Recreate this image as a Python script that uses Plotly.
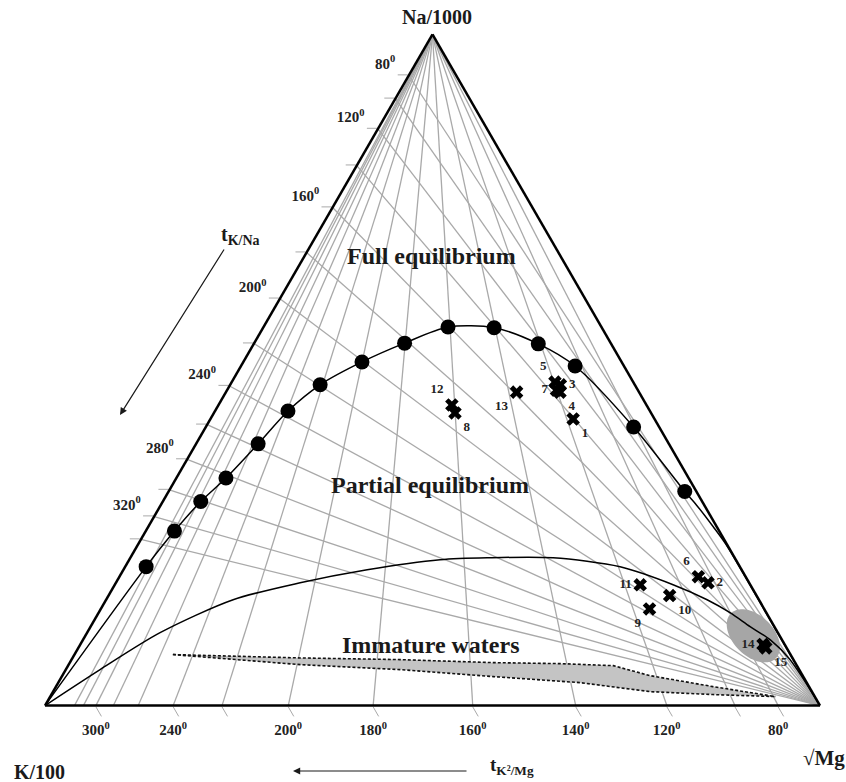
import math
import plotly.graph_objects as go

# ---------------- data (ternary percentages: Na/1000, K/100, sqrt(Mg)) ----------------
# K/Na isotherms: temperature and Na/1000 share where they meet the Na-K edge
KNA_TEMPS = [80, 100, 120, 140, 160, 180, 200, 220, 240, 260, 280, 300, 320, 340]
KNA_NA_PCT = [93.88, 90.42, 85.92, 80.46, 74.21, 67.50, 60.63, 53.94, 47.62, 41.85, 36.68, 32.13, 28.17, 24.75]
KNA_LABELLED = [80, 120, 160, 200, 240, 280, 320]

# K2/Mg isotherms: temperature and K/100 share where they meet the K-Mg edge
KMG_TEMPS = [80, 100, 120, 140, 160, 180, 200, 220, 240, 260, 280, 300, 320, 340]
KMG_K_PCT = [5.40, 10.98, 19.76, 31.52, 44.81, 57.66, 68.61, 77.16, 83.46, 87.97, 91.17, 93.43, 95.04, 96.20]
KMG_TICKED = [80, 100, 120, 140, 160, 180, 200, 220, 240, 300]
KMG_LABELLED = [80, 120, 140, 160, 180, 200, 240, 300]

# Full equilibrium dots
FEQ_NA = [31.9, 41.5, 50.6, 53.9, 56.3, 56.4, 54.0, 51.2, 47.8, 43.9, 39.0, 33.9, 30.4, 26.0, 20.7]
FEQ_K = [1.5, 3.3, 6.3, 9.4, 13.9, 19.8, 26.6, 33.5, 40.6, 46.7, 53.0, 59.7, 64.7, 70.3, 76.6]
FEQ_MG = [66.6, 55.2, 43.1, 36.7, 29.8, 23.8, 19.4, 15.3, 11.6, 9.4, 8.0, 6.4, 4.9, 3.7, 2.7]
# continuation of the full equilibrium curve towards the sqrt(Mg) corner
FEQ_TAIL_NA = [29.9, 26.6, 23.7, 12.0, 0.0]
FEQ_TAIL_K = [1.0, 0.45, 0.1, 0.05, 0.0]

# Partial / immature boundary
IMM_NA = [0, 5.36, 10.86, 15.77, 18.3, 20.24, 21.73, 22.02, 22.02, 20.68, 18.01, 15.77, 13.84, 11.76, 9.82, 6.85, 0]
IMM_K = [100, 90.21, 79.72, 67.84, 57.93, 48.31, 38.15, 31.94, 23.43, 15.45, 9.95, 6.68, 4.69, 3.14, 1.53, 0.44, 0]

# Shaded band (upper and lower dashed borders)
BAND_UP_NA = [7.6, 7.1, 6.85, 6.4, 6.25, 5.95, 4.46, 2.83, 1.34]
BAND_UP_K = [79.7, 63.5, 50.8, 39.0, 30.4, 23.7, 19.7, 12.4, 5.1]
BAND_LO_NA = [7.6, 6.1, 5.36, 4.32, 3.42, 2.08, 1.64, 1.34]
BAND_LO_K = [79.7, 64.0, 51.5, 40.0, 29.25, 20.9, 13.0, 5.1]

# Samples
SAMPLE_ID = ["1", "2", "3", "4", "5", "6", "7", "8", "9", "10", "11", "12", "13", "14", "15"]
SAMPLE_NA = [42.7, 18.3, 47.8, 46.7, 48.2, 19.2, 47.0, 43.6, 14.4, 16.4, 18.0, 44.8, 46.7, 9.1, 8.6]
SAMPLE_K = [10.5, 5.3, 9.6, 10.2, 10.1, 6.1, 10.5, 25.3, 14.8, 11.2, 14.2, 25.1, 15.8, 2.8, 2.7]
SAMPLE_MG = [46.8, 76.4, 42.6, 43.1, 41.7, 74.7, 42.5, 31.1, 70.8, 72.4, 67.8, 30.1, 37.5, 88.1, 88.7]

# Gray ellipse around samples 14/15 (centre)
ELL_NA, ELL_K, ELL_MG = 10.4, 3.4, 86.2

# ---------------- styles ----------------
SERIF = "Liberation Serif"
GRID = "#a9a9a9"
INK = "#1a1a1a"
fig = go.Figure()


def rest(na, k):
    return [100 - x - y for x, y in zip(na, k)]


# isotherm grid
ga, gb, gc = [], [], []
for na in KNA_NA_PCT:          # from the sqrt(Mg) corner to the Na-K edge
    ga += [0, na, None]
    gb += [0, 100 - na, None]
    gc += [100, 0, None]
for kp in KMG_K_PCT:           # from the Na corner to the K-Mg edge
    ga += [100, 0, None]
    gb += [0, kp, None]
    gc += [0, 100 - kp, None]
fig.add_trace(go.Scatterternary(a=ga, b=gb, c=gc, mode="lines",
                                line=dict(color=GRID, width=1.3), hoverinfo="skip"))

# shaded band
bpa = BAND_UP_NA + BAND_LO_NA[::-1]
bpb = BAND_UP_K + BAND_LO_K[::-1]
fig.add_trace(go.Scatterternary(a=bpa, b=bpb, c=rest(bpa, bpb), mode="lines", fill="toself",
                                fillcolor="#c4c4c4", line=dict(width=0), hoverinfo="skip"))
for na, k in ((BAND_UP_NA, BAND_UP_K), (BAND_LO_NA, BAND_LO_K)):
    fig.add_trace(go.Scatterternary(a=na, b=k, c=rest(na, k), mode="lines",
                                    line=dict(color="#111", width=1.6, dash="3px,2px"), hoverinfo="skip"))

# ellipse
ea, eb, ec = [], [], []
rx, ry, rot = 0.041, 0.026, math.radians(-45)
for i in range(0, 73):
    th = math.radians(i * 5)
    dx = rx * math.cos(th) * math.cos(rot) - ry * math.sin(th) * math.sin(rot)
    dy = rx * math.cos(th) * math.sin(rot) + ry * math.sin(th) * math.cos(rot)
    da = dy / (math.sqrt(3) / 2)
    dc = dx - da / 2
    ea.append(ELL_NA + 100 * da); ec.append(ELL_MG + 100 * dc); eb.append(ELL_K - 100 * (da + dc))
fig.add_trace(go.Scatterternary(a=ea, b=eb, c=ec, mode="lines", fill="toself", fillcolor="#a6a6a6",
                                line=dict(width=0), hoverinfo="skip"))

# immature boundary
fig.add_trace(go.Scatterternary(a=IMM_NA, b=IMM_K, c=rest(IMM_NA, IMM_K), mode="lines",
                                line=dict(color="black", width=1.5, shape="spline", smoothing=0.8),
                                hoverinfo="skip"))

# full equilibrium curve
ca = [0] + FEQ_NA[::-1] + FEQ_TAIL_NA
cb = [100] + FEQ_K[::-1] + FEQ_TAIL_K
fig.add_trace(go.Scatterternary(a=ca, b=cb, c=rest(ca, cb), mode="lines",
                                line=dict(color="black", width=1.5, shape="spline", smoothing=0.8),
                                hoverinfo="skip"))
fig.add_trace(go.Scatterternary(a=FEQ_NA, b=FEQ_K, c=FEQ_MG, mode="markers",
                                marker=dict(color="black", size=15, symbol="circle"), hoverinfo="skip"))

# samples
pos = ["bottom right", "middle right", "middle right", "bottom right", "top left", "top left",
       "middle left", "bottom right", "bottom left", "bottom right", "middle left", "top left",
       "bottom left", "middle left", "bottom right"]
fig.add_trace(go.Scatterternary(a=SAMPLE_NA, b=SAMPLE_K, c=SAMPLE_MG, mode="markers+text",
                                text=SAMPLE_ID, textposition=pos,
                                textfont=dict(family=SERIF, size=13, color="#222", weight="bold"),
                                marker=dict(color="black", size=12, symbol="x", line=dict(width=0)),
                                hoverinfo="skip"))

tickfont = dict(family=SERIF, size=15, color="#222", weight="bold")
base_axis = dict(showgrid=False, linecolor="black", linewidth=2.5, title=dict(text=""),
                 tickmode="array", tickcolor=GRID, tickwidth=1.3, tickfont=tickfont)
NB = "\u00a0"
aaxis = dict(base_axis, ticks="outside", ticklen=10,
             tickvals=KNA_NA_PCT,
             ticktext=[f"{t}<sup>0</sup><br> " if t in KNA_LABELLED else "" for t in KNA_TEMPS])
baxis = dict(base_axis, ticks="outside", ticklen=11,
             tickvals=[kp for t, kp in zip(KMG_TEMPS, KMG_K_PCT) if t in KMG_TICKED],
             ticktext=[f"{t}<sup>0</sup>{NB * 3}" if t in KMG_LABELLED else ""
                       for t in KMG_TEMPS if t in KMG_TICKED])
caxis = dict(base_axis, ticks="", showticklabels=False, tickvals=[])

# the figure fills the whole window (the page's body margin is removed below)
W, H = 846, 782


def px(x):
    return x / W


def py(y):
    return 1 - y / H


def ann(text, x, y, size, **kw):
    return dict(text=text, x=px(x), y=py(y), xref="paper", yref="paper", showarrow=False,
                xanchor="center", yanchor="middle",
                font=dict(family=SERIF, size=size, color=INK, weight="bold"), **kw)


annotations = [
    ann("Na/1000", 437, 17, 20),
    ann("K/100", 39, 772, 20),
    ann("√Mg", 824, 758, 21),
    ann("Full equilibrium", 431, 256, 24),
    ann("Partial equilibrium", 430, 485, 24),
    ann("Immature waters", 431, 645, 24),
    ann("t<sub>K/Na</sub>", 240, 236, 20),
    ann("t<sub>K²/Mg</sub>", 512, 766, 19),
    dict(x=px(120), y=py(415), xref="paper", yref="paper", ax=105, ay=-167, axref="pixel",
         ayref="pixel", text="", showarrow=True, arrowhead=2, arrowsize=1.2, arrowwidth=1.2,
         arrowcolor=INK),
    dict(x=px(293), y=py(771), xref="paper", yref="paper", ax=175, ay=0, axref="pixel",
         ayref="pixel", text="", showarrow=True, arrowhead=2, arrowsize=1.2, arrowwidth=1.2,
         arrowcolor=INK),
]

fig.update_layout(
    width=W, height=H, margin=dict(l=0, r=0, t=0, b=0), paper_bgcolor="white", showlegend=False,
    font=dict(family=SERIF),
    ternary=dict(sum=100, bgcolor="white",
                 domain=dict(x=[px(45), px(820)], y=[py(706), py(34)]),
                 aaxis=aaxis, baxis=baxis, caxis=caxis),
    annotations=annotations,
)
fig.write_html("out.html", config={"displayModeBar": False},
               post_script="document.body.style.margin='0';document.body.style.overflow='hidden';")
